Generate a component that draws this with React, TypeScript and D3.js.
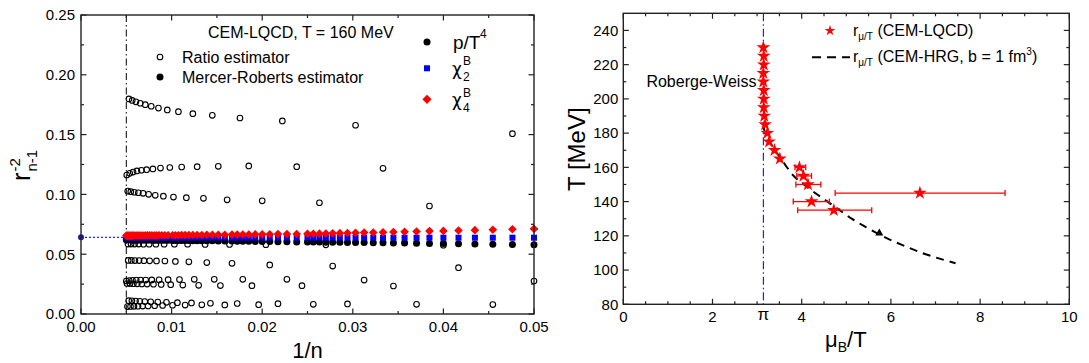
import React from "react";
import * as d3 from "d3";

const FONT = "'Liberation Sans', Arial, Helvetica, sans-serif";

// ---------------- Left panel data ----------------
const leftXTicks = [0, 0.01, 0.02, 0.03, 0.04, 0.05];
const leftXTickLabels = ["0.00", "0.01", "0.02", "0.03", "0.04", "0.05"];
const leftYTicks = [0, 0.05, 0.1, 0.15, 0.2, 0.25];
const leftYTickLabels = ["0.00", "0.05", "0.10", "0.15", "0.20", "0.25"];

// Mercer-Roberts estimator, n values
const mrN = [
  20, 21, 22, 23, 24, 25, 26, 27, 28, 29, 30, 31, 32, 33, 34, 35, 36, 37, 38, 39, 40,
  42, 44, 46, 48, 50, 52, 54, 56, 58, 60,
  63, 66, 69, 72, 75, 78, 81, 84, 87, 90, 93, 96, 99,
  104, 108, 112, 116, 120, 124, 128, 132, 136, 140, 144, 148, 152, 156, 160, 164, 168, 172, 176, 180, 184, 188, 192, 196, 200,
];
const pT4Values = [
  0.0580, 0.0582, 0.0584, 0.0586, 0.0587, 0.0589, 0.0590, 0.0592, 0.0593, 0.0594, 0.0595, 0.0596, 0.0597, 0.0597, 0.0598, 0.0599, 0.0600, 0.0600, 0.0601, 0.0602, 0.0602,
  0.0603, 0.0604, 0.0605, 0.0606, 0.0607, 0.0607, 0.0608, 0.0609, 0.0609, 0.0610,
  0.0610, 0.0611, 0.0612, 0.0612, 0.0613, 0.0613, 0.0613, 0.0614, 0.0614, 0.0615, 0.0615, 0.0615, 0.0615,
  0.0616, 0.0616, 0.0617, 0.0617, 0.0617, 0.0617, 0.0618, 0.0618, 0.0618, 0.0618, 0.0618, 0.0618, 0.0619, 0.0619, 0.0619, 0.0619, 0.0619, 0.0619, 0.0619, 0.0620, 0.0620, 0.0620, 0.0620, 0.0620, 0.0620,
];
const chi2Values = [
  0.0638, 0.0638, 0.0638, 0.0638, 0.0638, 0.0638, 0.0638, 0.0638, 0.0638, 0.0638, 0.0638, 0.0639, 0.0639, 0.0639, 0.0639, 0.0639, 0.0639, 0.0639, 0.0639, 0.0639, 0.0639,
  0.0639, 0.0639, 0.0639, 0.0639, 0.0639, 0.0639, 0.0639, 0.0639, 0.0639, 0.0639,
  0.0640, 0.0640, 0.0640, 0.0640, 0.0640, 0.0640, 0.0640, 0.0640, 0.0640, 0.0640, 0.0640, 0.0640, 0.0640,
  0.0640, 0.0640, 0.0640, 0.0640, 0.0640, 0.0641, 0.0641, 0.0641, 0.0641, 0.0641, 0.0641, 0.0641, 0.0641, 0.0641, 0.0641, 0.0641, 0.0641, 0.0641, 0.0641, 0.0641, 0.0641, 0.0641, 0.0641, 0.0641, 0.0641,
];
const chi4Values = [
  0.0712, 0.0708, 0.0704, 0.0701, 0.0698, 0.0695, 0.0693, 0.0690, 0.0688, 0.0686, 0.0684, 0.0682, 0.0681, 0.0679, 0.0677, 0.0676, 0.0675, 0.0673, 0.0672, 0.0671, 0.0670,
  0.0669, 0.0668, 0.0668, 0.0667, 0.0666, 0.0666, 0.0665, 0.0665, 0.0664, 0.0664,
  0.0663, 0.0663, 0.0662, 0.0662, 0.0661, 0.0661, 0.0661, 0.0660, 0.0660, 0.0660, 0.0659, 0.0659, 0.0659,
  0.0658, 0.0658, 0.0658, 0.0658, 0.0657, 0.0657, 0.0657, 0.0657, 0.0657, 0.0657, 0.0656, 0.0656, 0.0656, 0.0656, 0.0656, 0.0656, 0.0656, 0.0656, 0.0655, 0.0655, 0.0655, 0.0655, 0.0655, 0.0655, 0.0655,
];

// Ratio estimator: branches (n and r^-2)
const ratioA_n = [189, 177, 165, 153, 141, 129, 117, 105, 93, 81, 69, 57, 45, 33, 21];
const ratioA_r = [0.1798, 0.1786, 0.1774, 0.1762, 0.1750, 0.1737, 0.1722, 0.1706, 0.1692, 0.1675, 0.1661, 0.1639, 0.1614, 0.1578, 0.1508];
const ratioB_n = [198, 186, 174, 162, 150, 138, 126, 114, 102, 90, 78, 66, 54, 42, 30];
const ratioB_r = [0.1162, 0.1176, 0.1187, 0.1196, 0.1202, 0.1207, 0.1213, 0.1220, 0.1225, 0.1229, 0.1232, 0.1235, 0.1238, 0.1232, 0.1218];
const ratioC_n = [194, 182, 170, 158, 146, 134, 122, 110, 98, 86, 74, 62, 50, 38, 26];
const ratioC_r = [0.1028, 0.1023, 0.1018, 0.1014, 0.1009, 0.1001, 0.0992, 0.0985, 0.0978, 0.0973, 0.0967, 0.0955, 0.0946, 0.0930, 0.0903];
const ratioD_n = [193, 181, 169, 157, 145, 133, 121, 109, 97, 85, 73, 61, 49, 37, 25];
const ratioD_r = [0.0585, 0.0585, 0.0585, 0.0585, 0.0584, 0.0584, 0.0584, 0.0583, 0.0583, 0.0583, 0.0582, 0.0581, 0.0580, 0.0578, 0.0575];
const ratioE_n = [192, 180, 168, 156, 144, 132, 120, 108, 96, 84, 72, 60, 48, 36, 24];
const ratioE_r = [0.0448, 0.0448, 0.0447, 0.0447, 0.0446, 0.0445, 0.0444, 0.0443, 0.0440, 0.0436, 0.0430, 0.0424, 0.0410, 0.0401, 0.0387];
const ratioF_n = [200, 188, 176, 164, 152, 140, 128, 116, 104, 92, 80, 68, 56, 44, 32, 20];
const ratioF_r = [0.0276, 0.0280, 0.0282, 0.0284, 0.0284, 0.0284, 0.0285, 0.0286, 0.0287, 0.0288, 0.0290, 0.0290, 0.0290, 0.0290, 0.0284, 0.0276];
const ratioG_n = [197, 185, 173, 161, 149, 137, 125, 113, 101, 89, 77, 65, 53, 41, 29];
const ratioG_r = [0.0255, 0.0254, 0.0253, 0.0252, 0.0251, 0.0250, 0.0249, 0.0247, 0.0245, 0.0242, 0.0240, 0.0238, 0.0237, 0.0237, 0.0234];
const ratioH_n = [190, 178, 166, 154, 142, 130, 118, 106, 94, 82, 70, 58, 46, 34, 22];
const ratioH_r = [0.0111, 0.0110, 0.0108, 0.0106, 0.0104, 0.0102, 0.0100, 0.0098, 0.0095, 0.0093, 0.0090, 0.0088, 0.0086, 0.0084, 0.0079];
const ratioI_n = [195, 183, 171, 159, 147, 135, 123, 111, 99, 87, 75, 63, 51, 39, 27];
const ratioI_r = [0.0062, 0.0063, 0.0064, 0.0065, 0.0066, 0.0067, 0.0069, 0.0071, 0.0073, 0.0075, 0.0077, 0.0076, 0.0078, 0.0081, 0.0081];

const limitR = 0.0641; // extrapolated n -> infinity value
const nMax = 200;

// ---------------- Right panel data ----------------
const rightXTicks = [0, 2, 4, 6, 8, 10];
const rightXTickLabels = ["0", "2", "4", "6", "8", "10"];
const rightYTicks = [80, 100, 120, 140, 160, 180, 200, 220, 240];
const rwMu = Math.PI;

const lqcdT = [230, 225, 220, 215, 210, 205, 200, 195, 190, 185, 180, 175, 170, 165, 160, 155, 150, 145, 140, 135];
const lqcdMu = [3.14, 3.15, 3.15, 3.14, 3.14, 3.15, 3.15, 3.15, 3.16, 3.18, 3.23, 3.27, 3.39, 3.51, 3.95, 4.04, 4.14, 6.65, 4.22, 4.72];
const lqcdErrLo: (number | null)[] = [null, null, null, null, null, null, null, null, null, null, null, null, null, null, 3.85, 3.89, 3.87, 4.75, 3.81, 3.91];
const lqcdErrHi: (number | null)[] = [null, null, null, null, null, null, null, null, null, null, null, null, null, null, 4.09, 4.22, 4.43, 8.56, 4.62, 5.57];

const hrgT = [184, 180, 175, 170, 165, 160, 155, 150, 145, 140, 135, 130, 125, 120, 115, 110, 104];
const hrgMu = [3.14, 3.18, 3.28, 3.40, 3.54, 3.67, 3.82, 4.05, 4.30, 4.58, 4.85, 5.12, 5.45, 5.80, 6.22, 6.70, 7.45];

const triMu = [5.74];
const triT = [121.5];

const diamond = (cx: number, cy: number, h: number) =>
  `M${cx},${cy - h}L${cx + h},${cy}L${cx},${cy + h}L${cx - h},${cy}Z`;

const CHI_FONT = "'DejaVu Sans', 'Liberation Sans', sans-serif";

export default function App() {
  const xL = d3.scaleLinear().domain([0, 0.05]).range([81, 534]);
  const yL = d3.scaleLinear().domain([0, 0.25]).range([314, 15]);
  const xR = d3.scaleLinear().domain([0, 10]).range([623.3, 1069.3]);
  const yR = d3.scaleLinear().domain([80, 250]).range([304.3, 13.3]);

  const ratioBranches = [
    [ratioA_n, ratioA_r], [ratioB_n, ratioB_r], [ratioC_n, ratioC_r],
    [ratioD_n, ratioD_r], [ratioE_n, ratioE_r], [ratioF_n, ratioF_r],
    [ratioG_n, ratioG_r], [ratioH_n, ratioH_r], [ratioI_n, ratioI_r],
  ];

  const [lx0, lx1] = xL.range();
  const [ly0, ly1] = yL.range(); // bottom, top
  const [rx0, rx1] = xR.range();
  const [ry0, ry1] = yR.range();

  const axisStroke = "#222";
  const maj = 5.5, mnr = 3;

  const lxMinor = d3.range(0.005, 0.05, 0.01);
  const lyMinor = d3.range(0.025, 0.25, 0.05);
  const rxMinor = d3.range(0.5, 10, 0.5).filter((v) => Math.abs(v / 2 - Math.round(v / 2)) > 1e-6);
  const ryMinor = d3.range(90, 250, 20);

  const starBig = d3.symbol(d3.symbolStar, 58)() as string;
  const starLegend = d3.symbol(d3.symbolStar, 36)() as string;
  const tri = d3.symbol(d3.symbolTriangle, 28)() as string;

  const hrgLine = d3
    .line<number>()
    .x((_, i) => xR(hrgMu[i]))
    .y((d) => yR(d))
    .curve(d3.curveMonotoneX)(hrgT) as string;

  const mrPts = mrN.map((n, i) => ({ x: xL(1 / n), b: yL(pT4Values[i]), s: yL(chi2Values[i]), r: yL(chi4Values[i]) }));

  return (
    <svg
      width={1089}
      height={363}
      viewBox="0 0 1089 363"
      style={{ position: "absolute", left: 0, top: 0, background: "#fff" }}
      fontFamily={FONT}
    >
      <rect x={0} y={0} width={1089} height={363} fill="#fff" />

      {/* ================= LEFT PANEL ================= */}
      <defs>
        <clipPath id="clipL">
          <rect x={lx0} y={ly1} width={lx1 - lx0 + 4} height={ly0 - ly1} />
        </clipPath>
      </defs>

      <line x1={xL(1 / nMax)} x2={xL(1 / nMax)} y1={ly1} y2={ly0} stroke="#000" strokeWidth={1} strokeDasharray="7,3,1.5,3" />
      <line x1={xL(0)} x2={xL(1 / nMax)} y1={yL(limitR)} y2={yL(limitR)} stroke="#1f1fff" strokeWidth={1.3} strokeDasharray="2,2" />

      <g clipPath="url(#clipL)">
        {ratioBranches.map(([ns, rs], bi) =>
          ns.map((n, i) => (
            <circle key={`r${bi}-${i}`} cx={xL(1 / n)} cy={yL(rs[i])} r={2.8} fill="none" stroke="#000" strokeWidth={1.1} />
          ))
        )}
        {mrPts.map((p, i) => (
          <circle key={`b${i}`} cx={p.x} cy={p.b} r={3.5} fill="#000" />
        ))}
        {mrPts.map((p, i) => (
          <rect key={`s${i}`} x={p.x - 3} y={p.s - 3} width={6} height={6} fill="#0000ff" />
        ))}
        {mrPts.map((p, i) => (
          <path key={`d${i}`} d={diamond(p.x, p.r, 4.3)} fill="#ff0000" />
        ))}
      </g>
      <circle cx={xL(0)} cy={yL(limitR)} r={3} fill="#1a1aa8" />

      <rect x={lx0} y={ly1} width={lx1 - lx0} height={ly0 - ly1} fill="none" stroke={axisStroke} strokeWidth={1.4} />
      {leftXTicks.map((v) => (
        <g key={`lxt${v}`}>
          <line x1={xL(v)} x2={xL(v)} y1={ly0} y2={ly0 - maj} stroke={axisStroke} strokeWidth={1.2} />
          <line x1={xL(v)} x2={xL(v)} y1={ly1} y2={ly1 + maj} stroke={axisStroke} strokeWidth={1.2} />
        </g>
      ))}
      {lxMinor.map((v) => (
        <g key={`lxm${v}`}>
          <line x1={xL(v)} x2={xL(v)} y1={ly0} y2={ly0 - mnr} stroke={axisStroke} strokeWidth={1.2} />
          <line x1={xL(v)} x2={xL(v)} y1={ly1} y2={ly1 + mnr} stroke={axisStroke} strokeWidth={1.2} />
        </g>
      ))}
      {leftYTicks.map((v) => (
        <g key={`lyt${v}`}>
          <line x1={lx0} x2={lx0 + maj} y1={yL(v)} y2={yL(v)} stroke={axisStroke} strokeWidth={1.2} />
          <line x1={lx1} x2={lx1 - maj} y1={yL(v)} y2={yL(v)} stroke={axisStroke} strokeWidth={1.2} />
        </g>
      ))}
      {lyMinor.map((v) => (
        <g key={`lym${v}`}>
          <line x1={lx0} x2={lx0 + mnr} y1={yL(v)} y2={yL(v)} stroke={axisStroke} strokeWidth={1.2} />
          <line x1={lx1} x2={lx1 - mnr} y1={yL(v)} y2={yL(v)} stroke={axisStroke} strokeWidth={1.2} />
        </g>
      ))}
      {leftXTicks.map((v, i) => (
        <text key={`lxl${v}`} x={xL(v)} y={ly0 + 18} fontSize={15} textAnchor="middle" fill="#000">
          {leftXTickLabels[i]}
        </text>
      ))}
      {leftYTicks.map((v, i) => (
        <text key={`lyl${v}`} x={lx0 - 6} y={yL(v) + 5.3} fontSize={15} textAnchor="end" fill="#000">
          {leftYTickLabels[i]}
        </text>
      ))}
      <text x={(lx0 + lx1) / 2} y={358} fontSize={22} textAnchor="middle">1/n</text>
      <g transform="translate(30,181) rotate(-90)">
        <text x={0} y={0} fontSize={25}>r</text>
        <text x={9.5} y={-10} fontSize={15}>-2</text>
        <text x={9.5} y={7} fontSize={15}>n-1</text>
      </g>

      <text x={208} y={38} fontSize={16}>CEM-LQCD, T = 160 MeV</text>
      <circle cx={160} cy={57} r={2.8} fill="none" stroke="#000" strokeWidth={1.1} />
      <text x={182} y={62.5} fontSize={16}>Ratio estimator</text>
      <circle cx={160} cy={77} r={3.5} fill="#000" />
      <text x={182} y={83} fontSize={16}>Mercer-Roberts estimator</text>

      <circle cx={427} cy={42} r={3.5} fill="#000" />
      <text x={453} y={49} fontSize={19}>p/T</text>
      <text x={480} y={38} fontSize={12}>4</text>
      <rect x={424} y={65.3} width={6} height={6} fill="#0000ff" />
      <text x={452} y={75} fontSize={17} fontFamily={CHI_FONT}>χ</text>
      <text x={463} y={65} fontSize={12}>B</text>
      <text x={463} y={80.5} fontSize={12}>2</text>
      <path d={diamond(427, 99.3, 4.6)} fill="#ff0000" />
      <text x={452} y={106} fontSize={17} fontFamily={CHI_FONT}>χ</text>
      <text x={463} y={96.5} fontSize={12}>B</text>
      <text x={463} y={112} fontSize={12}>4</text>

      {/* ================= RIGHT PANEL ================= */}
      <line x1={xR(rwMu)} x2={xR(rwMu)} y1={ry1} y2={ry0} stroke="#2020e0" strokeWidth={1.2} strokeDasharray="8,3,1.5,3" />
      <path d={hrgLine} fill="none" stroke="#000" strokeWidth={2} strokeDasharray="8,6" />
      {triMu.map((m, i) => (
        <path key={`tri${i}`} d={tri} transform={`translate(${xR(m)},${yR(triT[i])})`} fill="#000" />
      ))}
      {lqcdT.map((t, i) => {
        const lo = lqcdErrLo[i];
        const hi = lqcdErrHi[i];
        if (lo == null || hi == null) return null;
        const y = yR(t);
        return (
          <g key={`eb${i}`} stroke="#ff0000" strokeWidth={1.3}>
            <line x1={xR(lo)} x2={xR(hi)} y1={y} y2={y} />
            <line x1={xR(lo)} x2={xR(lo)} y1={y - 3} y2={y + 3} />
            <line x1={xR(hi)} x2={xR(hi)} y1={y - 3} y2={y + 3} />
          </g>
        );
      })}
      {lqcdT.map((t, i) => (
        <path key={`st${i}`} d={starBig} transform={`translate(${xR(lqcdMu[i])},${yR(t)})`} fill="#ff0000" />
      ))}

      <rect x={rx0} y={ry1} width={rx1 - rx0} height={ry0 - ry1} fill="none" stroke={axisStroke} strokeWidth={1.4} />
      {rightXTicks.map((v) => (
        <g key={`rxt${v}`}>
          <line x1={xR(v)} x2={xR(v)} y1={ry0} y2={ry0 - maj} stroke={axisStroke} strokeWidth={1.2} />
          <line x1={xR(v)} x2={xR(v)} y1={ry1} y2={ry1 + maj} stroke={axisStroke} strokeWidth={1.2} />
        </g>
      ))}
      {rxMinor.map((v) => (
        <g key={`rxm${v}`}>
          <line x1={xR(v)} x2={xR(v)} y1={ry0} y2={ry0 - mnr} stroke={axisStroke} strokeWidth={1.2} />
          <line x1={xR(v)} x2={xR(v)} y1={ry1} y2={ry1 + mnr} stroke={axisStroke} strokeWidth={1.2} />
        </g>
      ))}
      {rightYTicks.map((v) => (
        <g key={`ryt${v}`}>
          <line x1={rx0} x2={rx0 + maj} y1={yR(v)} y2={yR(v)} stroke={axisStroke} strokeWidth={1.2} />
          <line x1={rx1} x2={rx1 - maj} y1={yR(v)} y2={yR(v)} stroke={axisStroke} strokeWidth={1.2} />
        </g>
      ))}
      {ryMinor.map((v) => (
        <g key={`rym${v}`}>
          <line x1={rx0} x2={rx0 + mnr} y1={yR(v)} y2={yR(v)} stroke={axisStroke} strokeWidth={1.2} />
          <line x1={rx1} x2={rx1 - mnr} y1={yR(v)} y2={yR(v)} stroke={axisStroke} strokeWidth={1.2} />
        </g>
      ))}
      {rightXTicks.map((v, i) => (
        <text key={`rxl${v}`} x={xR(v)} y={ry0 + 17.5} fontSize={15} textAnchor="middle">
          {rightXTickLabels[i]}
        </text>
      ))}
      <text x={xR(rwMu)} y={ry0 + 16} fontSize={17} textAnchor="middle">π</text>
      {rightYTicks.map((v) => (
        <text key={`ryl${v}`} x={rx0 - 5} y={yR(v) + 5.3} fontSize={15} textAnchor="end">
          {v}
        </text>
      ))}
      <text x={xR(rwMu) - 117} y={86.5} fontSize={16}>Roberge-Weiss</text>

      <text x={825} y={347} fontSize={22}>
        μ<tspan fontSize={14} dy={5}>B</tspan>
        <tspan dy={-5}>/T</tspan>
      </text>
      <text transform="translate(585,191) rotate(-90)" fontSize={24}>T [MeV]</text>

      <path d={starLegend} transform="translate(830,30.7)" fill="#ff0000" />
      <text x={853} y={36} fontSize={16}>
        r<tspan fontSize={10} dy={4}>μ/T</tspan>
        <tspan dy={-4}> (CEM-LQCD)</tspan>
      </text>
      <line x1={812} x2={850} y1={57.3} y2={57.3} stroke="#000" strokeWidth={2} strokeDasharray="9,6" />
      <text x={853} y={62} fontSize={16}>
        r<tspan fontSize={10} dy={4}>μ/T</tspan>
        <tspan dy={-4}> (CEM-HRG, b = 1 fm</tspan>
        <tspan fontSize={10} dy={-7}>3</tspan>
        <tspan dy={7}>)</tspan>
      </text>
    </svg>
  );
}
